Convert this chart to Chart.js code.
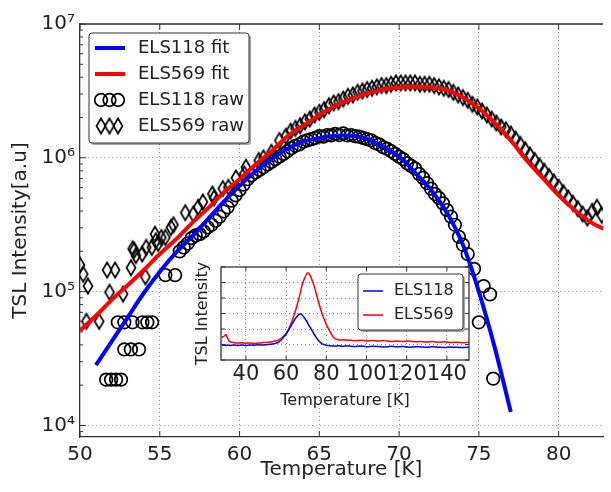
<!DOCTYPE html>
<html>
<head>
<meta charset="utf-8">
<script src="https://cdn.jsdelivr.net/npm/chart.js@4.4.1/dist/chart.umd.min.js"></script>
<style>
  html, body { margin: 0; padding: 0; background: #fff; overflow: hidden; }
  #wrap { position: relative; width: 611px; height: 492px; }
  canvas { position: absolute; left: 0; top: 0; }
</style>
</head>
<body>
<div id="wrap">
  <canvas id="mainChart" width="611" height="492"></canvas>
  <canvas id="insetChart" width="611" height="492"></canvas>
</div>
<script>
// ---- main panel: fitted glow curves, temperature in K, intensity in a.u.
const fitTemp118 = [51, 52, 53, 54, 55, 56, 57, 58, 59, 60, 61, 62, 63, 64, 65, 66, 67, 68, 69, 70,
  71, 72, 73, 74, 75, 76, 77];
const fit118 = [2.82e4, 4.27e4, 6.46e4, 9.77e4, 1.41e5, 1.95e5, 2.57e5, 3.47e5, 4.68e5, 6.17e5,
  7.94e5, 9.77e5, 1.17e6, 1.32e6, 1.41e6, 1.46e6, 1.46e6, 1.38e6, 1.20e6, 1.02e6,
  7.76e5, 5.75e5, 3.89e5, 2.24e5, 1.0e5, 3.8e4, 1.26e4];

const fitTemp569 = [50, 51, 52, 53, 54, 55, 56, 57, 58, 59, 60, 61, 62, 63, 64, 65, 66, 67, 68, 69,
  70, 71, 72, 73, 74, 75, 76, 77, 78, 79, 80, 81, 82, 83];
const fit569 = [5.13e4, 6.61e4, 8.71e4, 1.12e5, 1.45e5, 1.91e5, 2.45e5, 3.24e5, 4.17e5, 5.50e5,
  6.92e5, 8.91e5, 1.12e6, 1.45e6, 1.74e6, 2.09e6, 2.45e6, 2.75e6, 3.02e6, 3.24e6,
  3.35e6, 3.39e6, 3.35e6, 3.20e6, 2.82e6, 2.34e6, 1.82e6, 1.35e6, 9.55e5, 7.08e5,
  5.25e5, 4.07e5, 3.31e5, 2.88e5];

// ---- main panel: raw points
const rawTemp118 = [51.64, 51.95, 52.26, 52.57, 52.37, 52.78, 53.29, 53.91, 54.22, 54.52, 52.78, 53.19, 53.70, 55.35, 55.96,
  56.25, 56.5, 56.75, 57.0, 57.25, 57.5, 57.75, 58.0, 58.25, 58.5, 58.75, 59.0, 59.25, 59.5, 59.75,
  60.0, 60.25, 60.5, 60.75, 61.0, 61.25, 61.5, 61.75, 62.0, 62.25, 62.5, 62.75, 63.0, 63.25, 63.5, 63.75,
  64.0, 64.25, 64.5, 64.75, 65.0, 65.25, 65.5, 65.75, 66.0, 66.25, 66.5, 66.75, 67.0, 67.25, 67.5, 67.75,
  68.0, 68.25, 68.5, 68.75, 69.0, 69.25, 69.5, 69.75, 70.0, 70.25, 70.5, 70.75, 71.0, 71.25, 71.5, 71.75,
  72.0, 72.25, 72.5, 72.75, 73.0, 73.25, 73.5, 73.75, 74.0, 74.3, 74.7, 75.0, 75.3, 75.7, 75.9];
const raw118 = [2.2e4, 2.2e4, 2.2e4, 2.2e4, 5.9e4, 5.9e4, 5.9e4, 5.9e4, 5.9e4, 5.9e4, 3.7e4, 3.7e4, 3.7e4, 1.33e5, 1.33e5,
  2.00e5, 2.14e5, 2.29e5, 2.51e5, 2.63e5, 2.69e5, 2.82e5, 3.02e5, 3.16e5, 3.39e5, 3.63e5, 3.98e5, 4.27e5, 4.79e5, 5.25e5,
  5.75e5, 6.31e5, 6.92e5, 7.41e5, 7.76e5, 8.13e5, 8.51e5, 8.91e5, 9.33e5, 9.77e5, 1.02e6, 1.07e6, 1.12e6, 1.18e6, 1.23e6, 1.26e6,
  1.32e6, 1.35e6, 1.38e6, 1.41e6, 1.45e6, 1.44e6, 1.48e6, 1.47e6, 1.51e6, 1.48e6, 1.52e6, 1.47e6, 1.48e6, 1.45e6, 1.44e6, 1.41e6,
  1.38e6, 1.35e6, 1.29e6, 1.26e6, 1.20e6, 1.17e6, 1.12e6, 1.07e6, 1.02e6, 9.77e5, 9.12e5, 8.71e5, 8.32e5, 7.59e5, 7.08e5, 6.46e5,
  5.89e5, 5.37e5, 5.01e5, 4.57e5, 4.07e5, 3.63e5, 3.16e5, 2.57e5, 2.24e5, 1.91e5, 1.48e5, 5.9e4, 1.10e5, 9.55e4, 2.24e4];

const rawTemp569 = [50.0, 50.2, 50.4, 50.5, 51.2, 51.7, 51.85, 52.2, 52.7, 53.2, 53.3, 53.4, 53.5, 53.9, 54.1, 54.15,
  54.5, 54.7, 54.75, 54.9, 55.1, 55.35, 55.7, 55.86, 56.6, 57.1, 57.4, 57.7, 58.3, 58.4, 58.95, 59.3,
  59.77, 60.3, 60.4, 61.2, 61.5, 62.0, 62.5, 62.9, 63.2,
  63.5, 63.8, 64.1, 64.4, 64.7, 65.0, 65.3, 65.6, 65.9, 66.2, 66.5, 66.8, 67.1, 67.4, 67.7, 68.0,
  68.3, 68.6, 68.9, 69.2, 69.5, 69.8, 70.1, 70.4, 70.7, 71.0, 71.3, 71.6, 71.9, 72.2, 72.5, 72.8,
  73.1, 73.4, 73.7, 74.0, 74.3, 74.6, 74.9, 75.2, 75.5, 75.8, 76.1, 76.4, 76.7, 77.0, 77.3, 77.6,
  77.9, 78.2, 78.5, 78.8, 79.1, 79.4, 79.7, 80.0, 80.3, 80.6, 80.9, 81.2, 81.5, 81.8, 82.1, 82.4, 82.7];
const raw569 = [1.58e5, 1.35e5, 6.0e4, 1.10e5, 6.0e4, 1.45e5, 9.9e4, 1.45e5, 9.6e4, 1.51e5, 2.09e5, 2.04e5, 1.86e5, 1.91e5, 1.29e5, 2.14e5,
  2.14e5, 2.69e5, 2.40e5, 2.29e5, 2.54e5, 2.54e5, 3.02e5, 3.16e5, 3.89e5, 3.80e5, 4.27e5, 4.68e5, 5.37e5, 5.01e5, 5.89e5, 6.03e5,
  7.08e5, 7.59e5, 8.51e5, 9.55e5, 1.00e6, 1.10e6, 1.35e6, 1.45e6, 1.58e6,
  1.66e6, 1.74e6, 1.86e6, 1.95e6, 2.09e6, 2.19e6, 2.29e6, 2.45e6, 2.57e6, 2.63e6, 2.75e6, 2.88e6, 2.95e6, 3.09e6, 3.16e6, 3.24e6,
  3.31e6, 3.39e6, 3.47e6, 3.47e6, 3.55e6, 3.63e6, 3.63e6, 3.63e6, 3.63e6, 3.63e6, 3.55e6, 3.55e6, 3.55e6, 3.47e6, 3.39e6, 3.31e6,
  3.24e6, 3.09e6, 2.95e6, 2.82e6, 2.69e6, 2.51e6, 2.40e6, 2.24e6, 2.09e6, 1.95e6, 1.82e6, 1.70e6, 1.62e6, 1.51e6, 1.38e6, 1.26e6,
  1.15e6, 1.05e6, 9.55e5, 8.71e5, 7.94e5, 7.24e5, 6.61e5, 6.03e5, 5.50e5, 5.01e5, 4.57e5, 4.17e5, 3.80e5, 3.55e5, 3.98e5, 4.27e5, 3.72e5];

const xTicks = [50, 55, 60, 65, 70, 75, 80];
const yTicks = [1e4, 1e5, 1e6, 1e7];

// ---- inset: full glow curves (linear intensity, arbitrary units)
const insetTemp = [28, 29, 30, 31, 32, 34, 36, 38, 40, 42, 44, 46, 48, 50, 52, 54, 56, 58, 60, 62, 64, 66, 67, 68,
  70, 71, 72, 74, 76, 78, 80, 82, 84, 86, 88, 91, 94, 97, 100, 103, 106, 109, 112, 115, 118, 121, 124,
  127, 130, 133, 136, 139, 142, 145, 148, 151];
const inset118 = [0.95, 0.97, 0.94, 0.96, 0.93, 0.97, 0.94, 0.96, 0.93, 0.97, 0.95, 0.98, 0.96, 0.99, 1.01, 1.05,
  1.13, 1.35, 1.68, 2.1, 2.55, 2.9, 2.97, 2.9, 2.55, 2.3, 2.1, 1.65, 1.27, 1.04, 0.95, 0.92, 0.9, 0.92, 0.89,
  0.91, 0.87, 0.9, 0.86, 0.89, 0.87, 0.84, 0.88, 0.85, 0.87, 0.83, 0.86, 0.84, 0.82, 0.86, 0.83, 0.81, 0.84,
  0.82, 0.8, 0.83];
const inset569 = [1.45, 1.52, 1.63, 1.38, 1.18, 1.12, 1.09, 1.11, 1.08, 1.1, 1.07, 1.1, 1.12, 1.13, 1.16, 1.21,
  1.28, 1.45, 1.7, 2.2, 2.9, 3.8, 4.3, 4.85, 5.5, 5.62, 5.45, 4.75, 3.8, 2.95, 2.3, 1.8, 1.4, 1.3, 1.3,
  1.28, 1.25, 1.28, 1.23, 1.26, 1.22, 1.25, 1.2, 1.23, 1.19, 1.22, 1.17, 1.2, 1.16, 1.19, 1.14, 1.17, 1.13,
  1.15, 1.12, 1.14];
const insetXTicks = [40, 60, 80, 100, 120, 140];

const pairs = (xs, ys) => xs.map((x, i) => ({ x, y: ys[i] }));
const SUP = '⁰¹²³⁴⁵⁶⁷⁸⁹';
const GRID = '#8a8a8a';
const INK = '#222';

Chart.defaults.font.family = '"DejaVu Sans", sans-serif';
Chart.defaults.color = INK;

// matplotlib style thin diamond marker
function thinDiamond() {
  const c = document.createElement('canvas');
  c.width = 14; c.height = 20;
  const g = c.getContext('2d');
  g.strokeStyle = '#000';
  g.lineWidth = 1.7;
  g.beginPath();
  g.moveTo(7, 2.5); g.lineTo(11.5, 10); g.lineTo(7, 17.5); g.lineTo(2.5, 10);
  g.closePath();
  g.stroke();
  return c;
}
const diamond = thinDiamond();

function drawLegend(ctx, chart, box) {
  ctx.save();
  ctx.fillStyle = 'rgba(0,0,0,0.35)';
  ctx.beginPath(); ctx.roundRect(box.x + 2, box.y + 2, box.w, box.h, 3); ctx.fill();
  ctx.fillStyle = '#fff';
  ctx.beginPath(); ctx.roundRect(box.x, box.y, box.w, box.h, 3); ctx.fill();
  ctx.strokeStyle = '#333'; ctx.lineWidth = 1; ctx.stroke();
  ctx.font = box.font + 'px "DejaVu Sans", sans-serif';
  ctx.textBaseline = 'middle';
  chart.data.datasets.forEach((ds, i) => {
    const cy = box.rows[i];
    if (ds.showLine) {
      ctx.strokeStyle = ds.borderColor;
      ctx.lineWidth = ds.borderWidth;
      ctx.beginPath(); ctx.moveTo(box.sx, cy); ctx.lineTo(box.sx + box.sw, cy); ctx.stroke();
    } else {
      [6, 14.5, 23].forEach(dx => {
        const cx = box.sx + dx;
        if (ds.pointStyle === 'circle') {
          ctx.strokeStyle = ds.pointBorderColor;
          ctx.lineWidth = ds.pointBorderWidth;
          ctx.beginPath(); ctx.arc(cx, cy, ds.pointRadius, 0, Math.PI * 2); ctx.stroke();
        } else {
          ctx.drawImage(ds.pointStyle, cx - ds.pointStyle.width / 2, cy - ds.pointStyle.height / 2);
        }
      });
    }
    ctx.fillStyle = INK;
    ctx.fillText(ds.label, box.tx, cy);
  });
  ctx.restore();
}

const mainDecor = {
  id: 'mainDecor',
  afterDraw(chart) {
    const { ctx, chartArea: a, scales: { x, y } } = chart;
    ctx.save();
    ctx.strokeStyle = '#333';
    ctx.lineWidth = 1.3;
    ctx.beginPath(); ctx.moveTo(a.left, a.top); ctx.lineTo(a.right, a.top); ctx.stroke();
    ctx.lineWidth = 1;
    ctx.beginPath();
    xTicks.forEach(v => {
      const px = x.getPixelForValue(v);
      ctx.moveTo(px, a.bottom); ctx.lineTo(px, a.bottom - 6);
      ctx.moveTo(px, a.top); ctx.lineTo(px, a.top + 6);
    });
    yTicks.forEach(v => {
      const py = y.getPixelForValue(v);
      ctx.moveTo(a.left, py); ctx.lineTo(a.left + 6, py);
    });
    for (let e = 3; e <= 6; e++) {
      for (let m = 2; m <= 9; m++) {
        const v = m * Math.pow(10, e);
        if (v < y.min || v > y.max) continue;
        const py = y.getPixelForValue(v);
        ctx.moveTo(a.left, py); ctx.lineTo(a.left + 3, py);
      }
    }
    ctx.stroke();
    ctx.restore();
    drawLegend(ctx, chart, { x: 89, y: 33, w: 160, h: 110, sx: 95, sw: 30, tx: 138, font: 18, rows: [48, 74, 100, 126] });
  }
};

new Chart(document.getElementById('mainChart'), {
  type: 'scatter',
  data: {
    datasets: [
      { label: 'ELS118 fit', data: pairs(fitTemp118, fit118), showLine: true, borderColor: '#0000ff', borderWidth: 4,
        pointRadius: 0, tension: 0.35, clip: 0 },
      { label: 'ELS569 fit', data: pairs(fitTemp569, fit569), showLine: true, borderColor: '#ff0000', borderWidth: 4,
        pointRadius: 0, tension: 0.35, clip: 0 },
      { label: 'ELS118 raw', data: pairs(rawTemp118, raw118), showLine: false, pointStyle: 'circle', pointRadius: 6.3,
        pointBorderWidth: 1.7, pointBorderColor: '#000', pointBackgroundColor: 'rgba(0,0,0,0)', clip: 0 },
      { label: 'ELS569 raw', data: pairs(rawTemp569, raw569), showLine: false, pointStyle: diamond, pointRadius: 7,
        pointBorderColor: '#000', pointBackgroundColor: 'rgba(0,0,0,0)', clip: 0 }
    ]
  },
  options: {
    responsive: false,
    animation: false,
    events: [],
    layout: { padding: { top: 24, right: 0, bottom: 0, left: 0 } },
    plugins: { legend: { display: false }, tooltip: { enabled: false } },
    scales: {
      x: {
        type: 'linear', min: 50, max: 82.78,
        afterBuildTicks: s => { s.ticks = xTicks.map(v => ({ value: v })); },
        afterFit: s => { s.height = 55; },
        grid: { color: c => (c.tick && c.tick.value === 50 ? 'rgba(0,0,0,0)' : GRID), lineWidth: 1, drawTicks: false },
        border: { color: '#333', width: 1.3, dash: [1, 3] },
        ticks: { font: { size: 20 }, color: INK, padding: 6, maxRotation: 0 },
        title: { display: true, text: 'Temperature [K]', font: { size: 20 }, color: INK, padding: { top: 0, bottom: 10 } }
      },
      y: {
        type: 'logarithmic', min: 8.2e3, max: 1e7,
        afterBuildTicks: s => { s.ticks = yTicks.map(v => ({ value: v })); },
        afterFit: s => { s.width = 80; },
        grid: { color: GRID, lineWidth: 1, drawTicks: false },
        border: { color: '#333', width: 1.3, dash: [1, 3] },
        ticks: {
          font: { size: 20 }, color: INK, padding: 5,
          callback: v => '10' + String(Math.round(Math.log10(v))).split('').map(d => SUP[d]).join('')
        },
        title: { display: true, text: 'TSL Intensity[a.u]', font: { size: 20 }, color: INK, padding: { top: 9, bottom: 0 } }
      }
    }
  },
  plugins: [mainDecor]
});

// ---- inset
const insetDecor = {
  id: 'insetDecor',
  beforeDraw(chart) {
    const { ctx, chartArea: a } = chart;
    ctx.save();
    ctx.fillStyle = '#fff';
    ctx.fillRect(a.left, a.top, a.right - a.left, a.bottom - a.top);
    ctx.restore();
  },
  afterDraw(chart) {
    const { ctx, chartArea: a, scales: { x, y } } = chart;
    ctx.save();
    ctx.strokeStyle = '#333';
    ctx.lineWidth = 1.3;
    ctx.strokeRect(a.left, a.top, a.right - a.left, a.bottom - a.top);
    ctx.lineWidth = 1;
    ctx.beginPath();
    insetXTicks.forEach(v => {
      const px = x.getPixelForValue(v);
      ctx.moveTo(px, a.bottom); ctx.lineTo(px, a.bottom - 4);
      ctx.moveTo(px, a.top); ctx.lineTo(px, a.top + 4);
    });
    y.ticks.forEach(t => {
      const py = y.getPixelForValue(t.value);
      ctx.moveTo(a.left, py); ctx.lineTo(a.left + 4, py);
      ctx.moveTo(a.right, py); ctx.lineTo(a.right - 4, py);
    });
    ctx.stroke();
    ctx.restore();
    drawLegend(ctx, chart, { x: 358, y: 274, w: 105, h: 56, sx: 363, sw: 20, tx: 394, font: 16, rows: [291, 315] });
  }
};

new Chart(document.getElementById('insetChart'), {
  type: 'scatter',
  data: {
    datasets: [
      { label: 'ELS118', data: pairs(insetTemp, inset118), showLine: true, borderColor: '#0000ff', borderWidth: 1.5,
        pointRadius: 0, tension: 0.3, clip: 0 },
      { label: 'ELS569', data: pairs(insetTemp, inset569), showLine: true, borderColor: '#ff0000', borderWidth: 1.5,
        pointRadius: 0, tension: 0.3, clip: 0 }
    ]
  },
  options: {
    responsive: false,
    animation: false,
    events: [],
    layout: { padding: { left: 190, top: 267, right: 142, bottom: 80 } },
    plugins: { legend: { display: false }, tooltip: { enabled: false } },
    scales: {
      x: {
        type: 'linear', min: 27.6, max: 151,
        afterBuildTicks: s => { s.ticks = insetXTicks.map(v => ({ value: v })); },
        afterFit: s => { s.height = 52; },
        grid: { color: GRID, lineWidth: 1, drawTicks: false },
        border: { display: false, dash: [1, 3] },
        ticks: { font: { size: 21 }, color: INK, padding: 2, maxRotation: 0, autoSkip: false },
        title: { display: true, text: 'Temperature [K]', font: { size: 16 }, color: INK, padding: { top: 0, bottom: 2 } }
      },
      y: {
        type: 'linear', min: 0, max: 6,
        afterFit: s => { s.width = 31; },
        grid: { color: c => (c.tick && (c.tick.value === 0 || c.tick.value === 6) ? 'rgba(0,0,0,0)' : GRID), lineWidth: 1, drawTicks: false },
        border: { display: false, dash: [1, 3] },
        ticks: { display: false, stepSize: 1 },
        title: { display: true, text: 'TSL Intensity', font: { size: 16 }, color: INK, padding: { top: 3, bottom: 0 } }
      }
    }
  },
  plugins: [insetDecor]
});
</script>
</body>
</html>
